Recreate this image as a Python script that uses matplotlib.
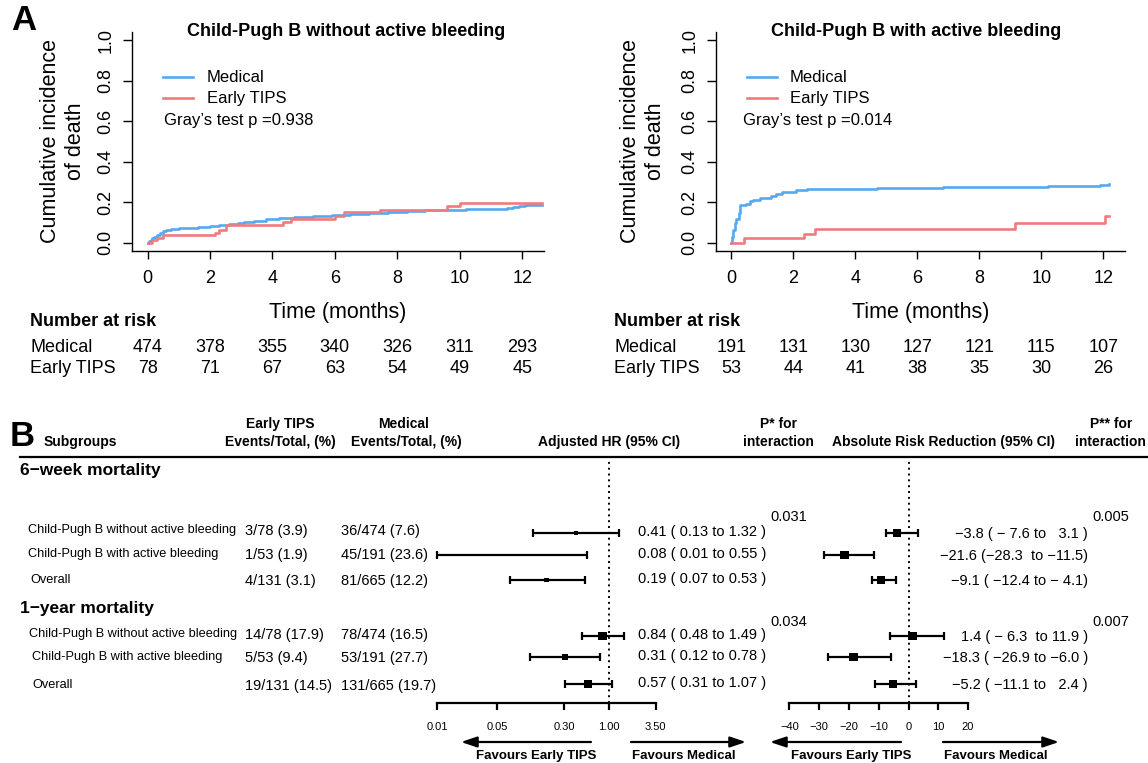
import numpy as np
import matplotlib
matplotlib.use("Agg")
import matplotlib.pyplot as plt
from matplotlib.lines import Line2D
from matplotlib.ticker import NullLocator
from matplotlib.transforms import blended_transform_factory

plt.rcParams['font.family'] = ['Liberation Sans', 'DejaVu Sans']

W, H = 1148, 763

# ---------------- panel A data ----------------
months = [0, 2, 4, 6, 8, 10, 12]

med_nobleed_t = [0, 0.05, 0.1, 0.15, 0.2, 0.3, 0.4, 0.5, 0.6, 0.75, 1.0, 1.3, 1.6, 2.0, 2.3,
                 2.6, 2.9, 3.1, 3.4, 3.8, 4.2, 4.7, 5.3, 5.9, 6.5, 7.1, 7.7, 8.3, 8.9, 9.5,
                 10.2, 11.0, 11.5, 11.7, 11.9, 12.1, 12.65]
med_nobleed_y = [0, 0.008, 0.015, 0.022, 0.028, 0.038, 0.048, 0.057, 0.065, 0.069, 0.072, 0.075,
                 0.078, 0.082, 0.087, 0.092, 0.098, 0.104, 0.110, 0.118, 0.124, 0.130, 0.135,
                 0.139, 0.143, 0.148, 0.153, 0.158, 0.162, 0.164, 0.166, 0.168, 0.172, 0.178,
                 0.184, 0.188, 0.188]
tips_nobleed_t = [0, 0.15, 0.3, 0.5, 2.15, 2.3, 2.5, 4.35, 4.6, 6.0, 6.3, 7.45, 9.6, 10.0, 12.65]
tips_nobleed_y = [0, 0.013, 0.026, 0.038, 0.051, 0.064, 0.09, 0.103, 0.12, 0.134, 0.15, 0.163,
                  0.18, 0.197, 0.197]

med_bleed_t = [0, 0.03, 0.06, 0.1, 0.15, 0.23, 0.29, 0.46, 0.6, 0.7, 0.93, 1.28, 1.45, 1.62,
               2.09, 2.43, 4.7, 6.84, 10.2, 11.9, 12.17]
med_bleed_y = [0, 0.03, 0.066, 0.1, 0.12, 0.148, 0.189, 0.193, 0.205, 0.213, 0.221, 0.23, 0.24,
               0.249, 0.259, 0.266, 0.27, 0.275, 0.282, 0.285, 0.29]
tips_bleed_t = [0, 0.4, 2.35, 2.7, 9.15, 12.05, 12.17]
tips_bleed_y = [0, 0.023, 0.046, 0.069, 0.097, 0.134, 0.134]

risk_med_nobleed = [474, 378, 355, 340, 326, 311, 293]
risk_tips_nobleed = [78, 71, 67, 63, 54, 49, 45]
risk_med_bleed = [191, 131, 130, 127, 121, 115, 107]
risk_tips_bleed = [53, 44, 41, 38, 35, 30, 26]

titles = ["Child-Pugh B without active bleeding", "Child-Pugh B with active bleeding"]
gray_p = ["0.938", "0.014"]

# ---------------- panel B data ----------------
subgroups = ["Child-Pugh B without active bleeding", "Child-Pugh B with active bleeding", "Overall",
             "Child-Pugh B without active bleeding", "Child-Pugh B with active bleeding", "Overall"]
tips_events = ["3/78 (3.9)", "1/53 (1.9)", "4/131 (3.1)", "14/78 (17.9)", "5/53 (9.4)", "19/131 (14.5)"]
med_events = ["36/474 (7.6)", "45/191 (23.6)", "81/665 (12.2)",
              "78/474 (16.5)", "53/191 (27.7)", "131/665 (19.7)"]
hr = np.array([0.41, 0.08, 0.19, 0.84, 0.31, 0.57])
hr_lo = np.array([0.13, 0.01, 0.07, 0.48, 0.12, 0.31])
hr_hi = np.array([1.32, 0.55, 0.53, 1.49, 0.78, 1.07])
arr = np.array([-3.8, -21.6, -9.1, 1.4, -18.3, -5.2])
arr_lo = np.array([-7.6, -28.3, -12.4, -6.3, -26.9, -11.1])
arr_hi = np.array([3.1, -11.5, -4.1, 11.9, -6.0, 2.4])
arr_labels = ["\u22123.8 ( \u2212 7.6 to   3.1 )", "\u221221.6 (\u221228.3  to \u221211.5)",
              "\u22129.1 ( \u221212.4 to \u2212 4.1)", "1.4 ( \u2212 6.3  to 11.9 )",
              "\u221218.3 ( \u221226.9 to \u22126.0 )", "\u22125.2 ( \u221211.1 to   2.4 )"]
p_hr = ["0.031", "0.034"]
p_arr = ["0.005", "0.007"]
hr_ticks = [0.01, 0.05, 0.30, 1.00, 3.50]
arr_ticks = [-40, -30, -20, -10, 0, 10, 20]

BLUE = '#55A9F0'
RED = '#F07B7F'

fig = plt.figure(figsize=(W / 100, H / 100), dpi=100)


def rect(x0, y0, x1, y1):
    return [x0 / W, 1 - y1 / H, (x1 - x0) / W, (y1 - y0) / H]


def ftext(x, y, s, **kw):
    kw.setdefault('va', 'center')
    fig.text(x / W, 1 - y / H, s, **kw)


def fline(x0, x1, y0, y1, **kw):
    fig.add_artist(Line2D([x0 / W, x1 / W], [1 - y0 / H, 1 - y1 / H], **kw))


def farrow(x_tail, x_head, y):
    fig.add_artist(matplotlib.patches.FancyArrowPatch(
        (x_tail / W, 1 - y / H), (x_head / W, 1 - y / H), transform=fig.transFigure,
        arrowstyle='-|>,head_length=0.95,head_width=0.32', mutation_scale=10,
        color='black', lw=1.6, shrinkA=0, shrinkB=0))


# ---------------- panel A ----------------
ftext(24, 20, "A", fontsize=25, fontweight='bold', ha='center')

panels = [
    dict(box=(132, 32, 544, 251), xr=12.7, mt=med_nobleed_t, my=med_nobleed_y,
         tt=tips_nobleed_t, ty=tips_nobleed_y, rm=risk_med_nobleed, rt=risk_tips_nobleed,
         title_x=346, ylab_x=63, key_x=163, txt_x=207, gray_x=164, tab_x=30),
    dict(box=(716, 32, 1125, 251), xr=12.7, mt=med_bleed_t, my=med_bleed_y,
         tt=tips_bleed_t, ty=tips_bleed_y, rm=risk_med_bleed, rt=risk_tips_bleed,
         title_x=916, ylab_x=643, key_x=747, txt_x=790, gray_x=743, tab_x=614),
]

for i, p in enumerate(panels):
    ax = fig.add_axes(rect(*p['box']))
    ax.step(p['mt'], p['my'], where='post', color=BLUE, lw=1.9)
    ax.step(p['tt'], p['ty'], where='post', color=RED, lw=1.9)
    ax.set_xlim(-0.5, p['xr'])
    ax.set_ylim(-0.04, 1.04)
    for s in ['top', 'right']:
        ax.spines[s].set_visible(False)
    for s in ['left', 'bottom']:
        ax.spines[s].set_linewidth(1.0)
    ax.set_xticks(months)
    ax.set_xticklabels([str(m) for m in months])
    yt = [0, 0.2, 0.4, 0.6, 0.8, 1.0]
    ax.set_yticks(yt)
    ax.set_yticklabels([f"{v:.1f}" for v in yt], rotation=90, va='center')
    ax.tick_params(axis='x', length=5.5, width=1, labelsize=13, pad=8)
    ax.tick_params(axis='y', length=6.5, width=1, labelsize=13, pad=6)

    ftext(p['title_x'], 32, titles[i], fontsize=13, fontweight='bold', ha='center')
    ftext(p['ylab_x'], 141, "Cumulative incidence\nof death", fontsize=15.5, rotation=90,
          ha='center', linespacing=1.3)
    ax.text(0.5, -0.279, "Time (months)", transform=ax.transAxes, fontsize=15.5,
            ha='center', va='center')

    fline(p['key_x'], p['key_x'] + 30, 77, 77, color=BLUE, lw=1.9)
    fline(p['key_x'], p['key_x'] + 30, 98, 98, color=RED, lw=1.9)
    ftext(p['txt_x'], 77, "Medical", fontsize=12)
    ftext(p['txt_x'], 99, "Early TIPS", fontsize=12)
    ftext(p['gray_x'], 121, "Gray\u2019s test p =" + gray_p[i], fontsize=12)

    ftext(p['tab_x'], 321, "Number at risk", fontsize=13, fontweight='bold')
    ftext(p['tab_x'], 347, "Medical", fontsize=13)
    ftext(p['tab_x'], 369, "Early TIPS", fontsize=13)
    tr = blended_transform_factory(ax.transData, fig.transFigure)
    for m, a, b in zip(months, p['rm'], p['rt']):
        ax.text(m, 1 - 347 / H, str(a), transform=tr, fontsize=13, ha='center', va='center')
        ax.text(m, 1 - 369 / H, str(b), transform=tr, fontsize=13, ha='center', va='center')

# ---------------- panel B ----------------
ftext(22, 437, "B", fontsize=25, fontweight='bold', ha='center')

hdr = dict(fontsize=10, fontweight='bold', ha='center')
ftext(80, 442, "Subgroups", **hdr)
ftext(280, 424, "Early TIPS", **hdr)
ftext(280, 442, "Events/Total, (%)", **hdr)
ftext(404, 424, "Medical", **hdr)
ftext(406, 442, "Events/Total, (%)", **hdr)
ftext(609, 442, "Adjusted HR (95% CI)", **hdr)
ftext(778, 424, "P* for", **hdr)
ftext(778, 442, "interaction", **hdr)
ftext(943, 442, "Absolute Risk Reduction (95% CI)", **hdr)
ftext(1111, 424, "P** for", **hdr)
ftext(1110, 442, "interaction", **hdr)
fline(20, 1148, 457, 457, color='black', lw=1.6)

ftext(20, 471, "6\u2212week mortality", fontsize=12.5, fontweight='bold')
ftext(20, 609, "1\u2212year mortality", fontsize=12.5, fontweight='bold')

row_y = [533, 555, 580, 636, 657, 684]
text_y = [530, 554, 580, 634, 657, 685]
label_x = [28, 28, 30, 29, 32, 32]
hr_box = [4, 2.5, 5, 9, 6, 8]
arr_box = [8, 9, 8, 9, 9, 8.5]

for k in range(6):
    ftext(label_x[k], text_y[k], subgroups[k], fontsize=9.2)
    ftext(245, text_y[k] + 1, tips_events[k], fontsize=10.5)
    ftext(341, text_y[k] + 1, med_events[k], fontsize=10.5)
    ftext(638, row_y[k] - 1, f"{hr[k]:.2f} ( {hr_lo[k]:.2f} to {hr_hi[k]:.2f} )", fontsize=10.5)
    ftext(1088, row_y[k] + 1, arr_labels[k], fontsize=10.5, ha='right')

for j, y in enumerate([517, 622]):
    ftext(770, y, p_hr[j], fontsize=10.5)
    ftext(1092, y, p_arr[j], fontsize=10.5)


def forest(x0, x1, est, lo, hi, sizes, ref, ticks, ticklabels, log):
    ax = fig.add_axes(rect(x0, 457, x1, 703))
    if log:
        ax.set_xscale('log')
    ax.set_xlim(ticks[0], ticks[-1])
    ax.set_ylim(703, 457)
    ax.patch.set_alpha(0)
    for s in ['top', 'right', 'left']:
        ax.spines[s].set_visible(False)
    ax.spines['bottom'].set_linewidth(1.6)
    ax.axvline(ref, color='black', ls=(0, (1, 2)), lw=1.4)
    ax.errorbar(est, row_y, xerr=[est - lo, hi - est], fmt='none', ecolor='black',
                elinewidth=1.6, capsize=2.6, capthick=1.6, clip_on=False)
    ax.scatter(est, row_y, marker='s', s=(np.array(sizes) / 1.389) ** 2, color='black',
               zorder=3, clip_on=False, linewidths=0)
    ax.set_yticks([])
    ax.set_xticks(ticks)
    ax.set_xticklabels(ticklabels)
    ax.xaxis.set_minor_locator(NullLocator())
    ax.tick_params(axis='x', length=5, width=1.6, labelsize=8, pad=9)
    return ax


forest(437, 655.8, hr, hr_lo, hr_hi, hr_box, 1, hr_ticks,
       [f"{v:.2f}" for v in hr_ticks], True)
forest(789.3, 968.1, arr, arr_lo, arr_hi, arr_box, 0, arr_ticks,
       [str(v).replace('-', '\u2212') for v in arr_ticks], False)

farrow(591, 461, 742)
farrow(631, 746, 742)
farrow(901, 770, 742)
farrow(943, 1059, 742)
fav = dict(fontsize=9.5, fontweight='bold', ha='center')
ftext(536, 756, "Favours Early TIPS", **fav)
ftext(684, 756, "Favours Medical", **fav)
ftext(851, 756, "Favours Early TIPS", **fav)
ftext(996, 756, "Favours Medical", **fav)

fig.savefig("out.png", dpi=100)
